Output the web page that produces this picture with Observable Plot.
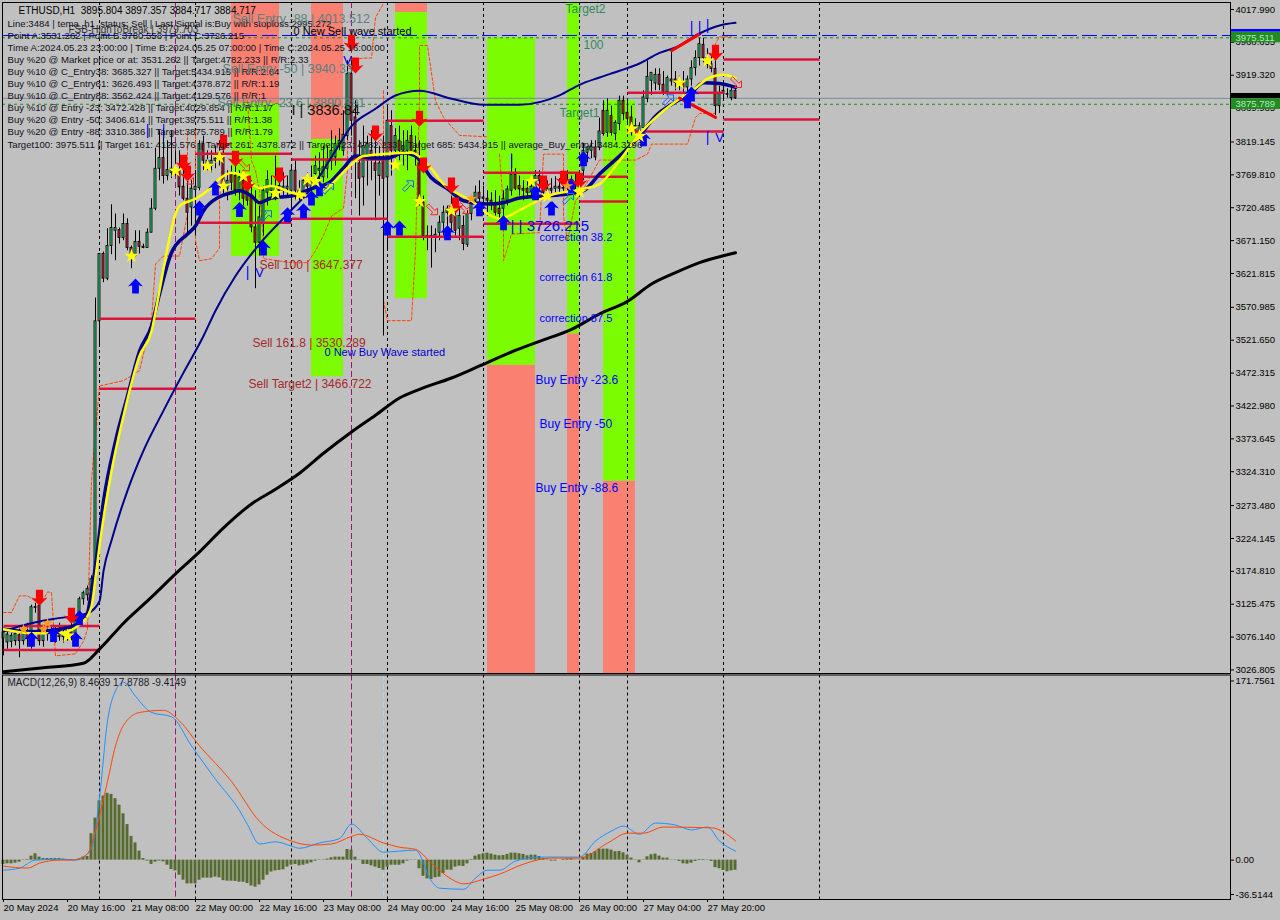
<!DOCTYPE html>
<html>
<head>
<meta charset="utf-8">
<script src="https://cdn.jsdelivr.net/npm/d3@7"></script>
<script src="https://cdn.jsdelivr.net/npm/@observablehq/plot@0.6"></script>
<style>
html,body{margin:0;padding:0;background:#c0c0c0;width:1280px;height:920px;overflow:hidden}
svg{display:block;position:absolute;left:0}
</style>
</head>
<body>
<script>
// ---------- price panel data (hourly candles, index = bar number) ----------
const open=[3074,3068,3069,3070,3079,3070,3082,3066,3121,3123,3070,3085,3082,3079,3085,3076,3082,3085,3079,3100,3133,3139,3145,3163,3550,3651,3614,3663,3686,3687,3675,3696,3660,3648,3669,3662,3660,3683,3719,3779,3795,3768,3773,3776,3776,3752,3734,3721,3747,3750,3816,3791,3783,3791,3794,3796,3749,3773,3768,3746,3761,3756,3736,3691,3668,3696,3743,3746,3746,3753,3746,3749,3746,3776,3746,3743,3758,3752,3771,3776,3766,3779,3791,3796,3816,3806,3828,3921,3856,3787,3766,3796,3806,3787,3768,3796,3766,3843,3806,3821,3806,3806,3828,3806,3787,3728,3678,3678,3675,3683,3698,3713,3719,3708,3689,3693,3665,3711,3731,3743,3736,3734,3731,3726,3719,3719,3731,3746,3770,3753,3749,3749,3746,3749,3768,3746,3746,3749,3749,3752,3749,3749,3749,3755,3752,3776,3803,3806,3811,3811,3866,3833,3858,3831,3846,3881,3863,3856,3843,3833,3840,3884,3911,3907,3920,3905,3894,3913,3913,3910,3908,3901,3913,3930,3945,3965,3945,3936,3929,3873,3896,3891,3885,3896];
const high=[3086,3086,3082,3085,3093,3085,3097,3124,3127,3126,3088,3100,3093,3093,3097,3088,3091,3097,3103,3136,3145,3153,3168,3585,3651,3654,3689,3725,3711,3690,3711,3704,3663,3686,3686,3666,3689,3734,3810,3836,3839,3821,3836,3806,3806,3791,3768,3761,3776,3821,3828,3806,3806,3813,3821,3806,3776,3783,3783,3776,3773,3768,3761,3746,3723,3753,3776,3768,3798,3776,3773,3768,3783,3791,3761,3764,3773,3783,3798,3803,3813,3813,3836,3828,3839,3866,3941,3941,3881,3821,3843,3828,3836,3836,3813,3828,3873,3866,3839,3843,3836,3836,3843,3828,3821,3738,3693,3693,3689,3708,3723,3723,3738,3723,3719,3708,3716,3738,3753,3761,3753,3746,3743,3746,3738,3746,3753,3801,3779,3768,3761,3761,3768,3776,3776,3764,3761,3764,3767,3764,3764,3776,3768,3773,3773,3817,3812,3821,3821,3855,3881,3884,3873,3851,3888,3888,3884,3873,3854,3848,3896,3941,3923,3929,3929,3925,3918,3956,3925,3918,3925,3918,3941,3956,3975,3975,3959,3948,3941,3903,3903,3899,3903,3899];
const low=[3048,3058,3060,3063,3045,3064,3061,3058,3112,3063,3061,3070,3070,3067,3070,3067,3070,3070,3070,3093,3124,3130,3130,3153,3513,3608,3611,3650,3641,3666,3671,3656,3629,3647,3651,3659,3660,3683,3716,3761,3756,3761,3764,3768,3738,3731,3683,3693,3678,3746,3776,3776,3773,3779,3783,3738,3731,3746,3738,3731,3723,3723,3683,3599,3648,3678,3723,3738,3731,3738,3734,3738,3716,3731,3731,3734,3738,3734,3761,3761,3758,3764,3776,3783,3806,3798,3821,3828,3734,3708,3723,3753,3761,3701,3738,3528,3656,3768,3783,3791,3783,3776,3806,3783,3723,3671,3656,3630,3653,3671,3678,3686,3683,3678,3671,3656,3661,3701,3723,3723,3723,3708,3716,3708,3701,3708,3723,3738,3746,3738,3731,3734,3734,3738,3746,3734,3737,3738,3743,3743,3738,3743,3743,3746,3746,3761,3788,3794,3791,3806,3828,3826,3828,3821,3836,3851,3848,3828,3828,3821,3836,3878,3889,3896,3896,3889,3889,3903,3896,3896,3893,3889,3903,3918,3933,3938,3929,3923,3859,3862,3881,3885,3881,3883];
const close=[3083,3080,3078,3081,3070,3082,3073,3121,3120,3070,3085,3082,3079,3085,3076,3082,3085,3079,3100,3133,3142,3148,3163,3550,3651,3614,3663,3690,3690,3675,3696,3660,3647,3669,3662,3660,3683,3719,3779,3795,3768,3777,3779,3775,3751,3734,3713,3749,3752,3816,3791,3783,3791,3794,3797,3756,3761,3758,3747,3766,3734,3731,3691,3668,3706,3746,3762,3753,3752,3746,3752,3752,3776,3746,3743,3761,3752,3761,3783,3779,3781,3791,3806,3816,3821,3830,3921,3851,3791,3764,3813,3816,3798,3776,3787,3764,3851,3806,3828,3806,3813,3821,3806,3803,3726,3678,3675,3675,3680,3698,3713,3719,3698,3686,3708,3666,3711,3731,3743,3734,3734,3731,3726,3713,3711,3734,3748,3770,3749,3748,3746,3743,3752,3768,3761,3743,3749,3746,3752,3749,3750,3752,3755,3752,3757,3806,3811,3812,3796,3835,3831,3866,3833,3848,3881,3861,3854,3839,3836,3843,3886,3917,3923,3920,3905,3893,3915,3910,3908,3905,3901,3913,3930,3945,3966,3945,3935,3929,3873,3891,3891,3890,3896,3884.717];

// moving averages: [bar index], [price]
const maSlowBar=[0,10,20,24,30,37,43,49,55,62,68,74,80,87,93,99,104,112,119,127,134,142,149,156,162,168,174,183];
const maSlow=[3024,3030,3037,3058,3097,3136,3171,3204,3240,3276,3298,3322,3352,3384,3409,3435,3448,3465,3483,3504,3520,3538,3561,3580,3606,3623,3638,3653];
const maMidBar=[0,7,12,21,24,25,27,31,35,40,45,50,53,58,64,71,77,83,87,93,98,104,112,120,129,139,144,149,154,159,164,168,174,179,183];
const maMid=[3085,3097,3103,3112,3130,3175,3221,3296,3356,3416,3473,3528,3566,3618,3666,3711,3750,3806,3843,3869,3889,3896,3884,3875,3875,3889,3905,3916,3926,3937,3953,3961,3982,3994,3998];
const temaBar=[0,7,14,19,21,22,23,25,28,31,34,37,39,42,46,48,50,54,57,59,62,64,67,72,77,82,85,88,92,96,100,103,107,111,115,121,125,129,135,141,145,149,154,159,163,168,172,175,179,183];
const tema=[3088,3084,3088,3097,3112,3145,3183,3280,3370,3438,3505,3543,3591,3653,3681,3693,3716,3737,3743,3746,3738,3728,3735,3738,3749,3761,3780,3798,3795,3795,3803,3798,3765,3749,3731,3726,3728,3735,3738,3741,3746,3771,3798,3828,3858,3879,3893,3908,3907,3901];
const yellowBar=[0,7,14,20,22,23,24,27,30,34,37,39,41,43,44,48,51,54,57,60,64,67,72,77,81,86,90,95,102,106,110,117,122,124,130,136,145,149,154,159,164,169,173,176,180,183];
const yellow=[3088,3082,3082,3100,3122,3165,3213,3325,3408,3498,3535,3596,3660,3711,3723,3734,3746,3764,3773,3768,3750,3753,3743,3738,3750,3780,3798,3801,3803,3786,3756,3731,3708,3704,3720,3738,3749,3756,3791,3831,3861,3884,3900,3914,3920,3915];

// thin orange dashed envelope, broken in stretches
const envA=[[0,3113],[2,3113],[4,3138],[6,3138],[8,3130],[10,3133],[11,3144],[12,3143],[13,3048],[18,3051],[20,3070],[21,3088],[22,3311],[24,3453],[30,3461],[34,3476],[37,3551],[38,3636],[40,3648],[44,3648],[46,3711],[46,3776],[46,3836]];
const envB=[[48,3836],[48,3671],[49,3641],[52,3644],[54,3660],[54,3731],[55,3821]];
const envC=[[61,3881],[62,3791],[63,3776],[64,3746],[65,3671],[65,3644],[72,3638],[76,3638],[78,3656],[80,3679],[82,3708],[85,3720],[86,3776],[86,3941],[90,3945],[92,3945],[93,4006],[95,4027]];
const envD=[[95,3896],[95,3581],[96,3551],[102,3551],[103,3656],[104,3881],[104,3964],[106,3964],[108,3881],[110,3856],[114,3829],[121,3827]];
const envE=[[124,3801],[125,3721],[125,3641],[126,3660],[127,3681],[134,3683],[135,3801],[140,3801],[140,3708],[141,3671],[143,3731],[144,3738],[149,3792],[158,3792],[161,3801],[162,3816],[171,3816],[173,3856],[174,3862],[178,3862],[178,3967],[179,3977],[182,3977]];

// signal zones (bar index from/to, price from/to)
const greenFrom=[57,77,98,121,141,150], greenTo=[69,85,106,133,144,158];
const greenTop=[3877,3823,4013.5,3975.5,4028.5,3881], greenBottom=[3647.4,3466.7,3584,3484.3,3531.3,3310.4];
const salmonFrom=[57,77,98,121,141,150], salmonTo=[69,85,106,133,144,158];
const salmonTop=[4028.5,4028.5,4028.5,3484.3,3531.3,3310.4], salmonBottom=[3877,3823,4013.5,3021,3021,3021];

// crimson levels per time block
const levelFrom=[0,0,24,24,48,48,72,72,96,96,120,120,144,144,156,156,180,180];
const levelTo=[24,24,48,48,72,72,96,96,120,120,144,144,156,156,180,180,204,204];
const levelPrice=[3092.9,3056.8,3554,3449,3801.7,3698,3792.7,3704,3851,3677,3773,3696.6,3767,3730,3893,3835,3943,3853];

// markers (bar, price)
const upBar=[7,12.5,18,19,33,49,53,59,65,71,75,77,79,96,99,111,119,125,133,137,142,145,160,171,172];
const upPrice=[3073,3080,3073,3105,3603,3720,3750,3718,3660,3710,3716,3735,3749,3690,3690,3683,3719,3698,3743,3720,3754,3794,3824,3881,3891];
const downBar=[9,17,45,46,55,58,61,69,87,88,93,104,105,112,113,135,140,144,178];
const downPrice=[3135,3108,3788,3772,3818,3794,3757,3769,3968,3934,3832,3854,3784,3754,3724,3757,3764,3761,3953];
const starBar=[16,32,43,51,54,55,60,68,74,76,78,98,104,112,132,136,144,157,159,169,176];
const starPrice=[3078,3648,3776,3783,3796,3753,3768,3742,3740,3763,3760,3785,3730,3716,3760,3738,3744,3839,3828,3908,3941];
const orangeStarBar=[117,141,5,11,10], orangeStarPrice=[3734,3753,3088,3097,3088];
const hollowUpBar=[65.5,81,101,141,166], hollowUpPrice=[3707,3748,3752,3733,3881];
const hollowDownBar=[46,60,95,107,115,183], hollowDownPrice=[3765,3785,3816,3719,3721,3910];
const tickMarkBar=[36,40,61,172,174,176,176,127], tickMarkPrice=[3836,3836,3623,3991,3991,3994,3826,3791];
const vMarkBar=[64,86,179], vMarkPrice=[3623,3941,3826];

// trend strokes
const trendUp=[[167,3956],[174,3981]], trendDown=[[169,3885],[178,3856]];

// reference lines
const blockBars=[24,48,72,96,120,144,156,180,204];
const purpleBars=[43,87];
const priceTicks=[4017.990,3968.655,3919.320,3869.985,3819.145,3769.810,3720.485,3671.150,3621.815,3570.985,3521.650,3472.315,3422.980,3373.645,3324.310,3273.480,3224.145,3174.810,3125.475,3076.140,3026.805];
const target1=3875.789, target2=3975.511, highToBreak=3979.0, lastPrice=3884.717;

// ---------- comment block ----------
const commentLines=[
"Line:3484 | tema_h1_status: Sell | Last Signal is:Buy with stoploss:2995.272",
"Point A:3531.262 | Point B:3780.558 | Point C:3726.215",
"Time A:2024.05.23 23:00:00 | Time B:2024.05.25 07:00:00 | Time C:2024.05.25 16:00:00",
"Buy %20 @ Market price or at: 3531.262 || Target:4782.233 || R/R:2.33",
"Buy %10 @ C_Entry38: 3685.327 || Target:5434.915 || R/R:2.64",
"Buy %10 @ C_Entry61: 3626.493 || Target:4378.872 || R/R:1.19",
"Buy %10 @ C_Entry88: 3562.424 || Target:4129.576 || R/R:1",
"Buy %10 @ Entry -23: 3472.428 || Target:4029.854 || R/R:1.17",
"Buy %20 @ Entry -50: 3406.614 || Target:3975.511 || R/R:1.38",
"Buy %20 @ Entry -88: 3310.386 || Target:3875.789 || R/R:1.79",
"Target100: 3975.511 || Target 161: 4129.576 || Target 261: 4378.872 || Target 423: 4782.233 || Target 685: 5434.915 || average_Buy_entry: 3484.3196"
];

// ---------- MACD data ----------
const histogram=[-4,-3.4,-3.4,-2.8,-1.9,.3,.6,3.7,5.9,2.8,1.5,1.5,1.5,1.5,1.5,.9,.3,.6,-.3,1.2,2.8,3.4,24.5,39,55,59.5,62,61,57,51,43,33,22,16,8.4,1.5,-.9,-4,-1.9,-.9,-1.6,-4.7,-8.7,-10,-14,-18.6,-22,-22,-22,-18.6,-16.7,-16.7,-16.7,-15.8,-16.4,-19,-19.5,-19.5,-19.8,-20.5,-20.5,-21.7,-24,-25,-23,-18.6,-14,-11,-10,-9.6,-9,-6.5,-4.7,-4,-5.3,-4.7,-3.7,-2.5,-.9,.3,-.3,.9,2.2,2.8,2.8,2.8,9.9,9.3,2.8,-.3,-4,-4,-5.3,-6.5,-7.8,-9.3,-6.5,-4.7,-4.7,-4.7,-3.4,-.9,-.3,-.3,-8,-15,-17.4,-18,-16.4,-15.8,-12.4,-9.3,-9.3,-6.5,-5.6,-5.9,-3.4,.6,3.7,5,5.9,6.5,5.6,4.6,4,4.3,5.3,6.5,6.5,5.9,5.3,4,4.6,4.6,3.4,1.5,-.3,-.9,-.9,0,.6,1.2,1.5,-.3,-.3,2.8,5.6,6.2,7.8,10.2,10.2,10.2,9.3,7.8,8.1,6.8,4.6,1.9,-.3,-2.5,-.3,3.1,5,5.6,3.7,1.9,1.9,.3,-.3,-1.2,-3.4,-3.7,-2.8,-1.2,.6,.6,-.3,-1.2,-7,-8,-9.6,-10.8,-10,-9.4149];
const macdBar=[0,4,8,15,18,22,24,26,28,30,33,37,42,47,53,59,61,64,68,72,74,79,84,87,91,95,99,103,107,109,115,118,121,124,128,134,141,144,148,152,155,159,163,168,172,176,179,183];
const macd=[-9.3,-7.4,0,.9,0,11,58,129,157,165,152,137,133,106,75,46,33,15,17,13,11,16,20,33.5,20,7.4,8.4,9.3,-19.5,-26,-27,-16.7,-9.3,-9.3,-.9,2.8,2.8,2.8,17.7,27,31.6,24,34.4,32.6,28,30.7,17.7,8.4639];
const signalBar=[0,6,9,14,17,21,23,26,28,30,34,40,44,49,57,64,72,77,82,87,89,95,99,103,107,112,115,120,124,130,137,144,151,156,160,165,177,183];
const signal=[-5.6,-7.4,-2.8,0,0,5.6,27,73,106,125,137,139,129,106,73,36,17.7,14,15,22,24,16,12,10,-2.8,-17.7,-22,-17.7,-13,-3.7,1.9,1.9,15.8,25,25,30.7,30,17.8788];
const timeTickBars=[0,16,32,48,64,80,96,112,128,144,160,176];
const timeTickLabels=["20 May 2024","20 May 16:00","21 May 08:00","22 May 00:00","22 May 16:00","23 May 08:00","24 May 00:00","24 May 16:00","25 May 08:00","26 May 00:00","27 May 04:00","27 May 20:00"];
const macdTop=171.7561, macdBottom=-36.5144;

// ---------- helpers ----------
const FONT="Liberation Sans";
const bars=d3.range(open.length);
const zip=(xs,ys)=>xs.map((x,k)=>({x,y:ys[k]}));
const pairs=a=>a.map(([x,y])=>({x,y}));
const glyph=(pts)=>({draw(c,size){const r=Math.sqrt(size/Math.PI);pts.forEach(([a,b],k)=>k?c.lineTo(a*r,b*r):c.moveTo(a*r,b*r));c.closePath();}});
const arrowUp=glyph([[0,-1],[1,.05],[.45,-.1],[.45,1],[-.45,1],[-.45,-.1],[-1,.05]]);
const arrowDown=glyph([[0,1],[1,-.05],[.45,.1],[.45,-1],[-.45,-1],[-.45,.1],[-1,-.05]]);
const hollowUp=glyph([[1,-1],[1,.1],[.55,-.3],[-.45,.8],[-.85,.4],[.2,-.6],[-.15,-1]]);
const hollowDown=glyph([[1,1],[1,-.1],[.55,.3],[-.45,-.8],[-.85,-.4],[.2,.6],[-.15,1]]);
const label=(t,i,p,size,fill)=>Plot.text([t],{x:()=>i,y:()=>p,text:d=>d,textAnchor:"start",fontSize:size,fill,fontFamily:FONT});
const xDomain=[-0.25,306.75];
const greens=greenFrom.map((a,k)=>({a,b:greenTo[k],t:greenTop[k],u:greenBottom[k]}));
const salmons=salmonFrom.map((a,k)=>({a,b:salmonTo[k],t:salmonTop[k],u:salmonBottom[k]}));
const levels=levelFrom.map((a,k)=>({a,b:levelTo[k],p:levelPrice[k]}));
const env=a=>Plot.line(pairs(a),{x:"x",y:"y",stroke:"#ff4500",strokeWidth:1,strokeDasharray:"3,2"});

// ---------- price panel ----------
const main=Plot.plot({
  width:1280,height:674,marginLeft:2,marginRight:50,marginTop:2,marginBottom:1,
  style:{background:"#c0c0c0",fontFamily:FONT,fontSize:"9.5px",color:"#000"},
  x:{domain:xDomain,axis:null},
  y:{domain:[3021.5,4028.5],axis:null},
  marks:[
    Plot.rect(salmons,{x1:"a",x2:"b",y1:"t",y2:"u",fill:"#fa8072"}),
    Plot.rect(greens,{x1:"a",x2:"b",y1:"t",y2:"u",fill:"#7cfc00"}),
    Plot.ruleX(blockBars,{stroke:"#000",strokeDasharray:"3,3"}),
    Plot.ruleX(purpleBars,{stroke:"#a0147a",strokeDasharray:"6,3"}),
    Plot.ruleY([highToBreak],{stroke:"#0000ff",strokeDasharray:"15,5"}),
    Plot.ruleY([target2,target1],{stroke:"#228b22",strokeDasharray:"3,3"}),
    Plot.ruleY([lastPrice],{stroke:"#778899"}),
    env(envA),env(envB),env(envC),env(envD),env(envE),
    Plot.ruleX(bars,{x:d=>d,y1:d=>low[d],y2:d=>high[d],stroke:"#000"}),
    Plot.rect(bars,{x1:d=>d-.25,x2:d=>d+.25,y1:d=>open[d],y2:d=>close[d],
      fill:d=>close[d]>=open[d]?"#2fd47c":"#d02840",stroke:"#000",strokeWidth:.85}),
    Plot.link(levels,{x1:"a",x2:"b",y1:"p",y2:"p",stroke:"#dc143c",strokeWidth:2.5}),
    Plot.line(zip(maSlowBar,maSlow),{x:"x",y:"y",stroke:"#000",strokeWidth:3,curve:"monotone-x"}),
    Plot.line(zip(maMidBar,maMid),{x:"x",y:"y",stroke:"#00008b",strokeWidth:2,curve:"monotone-x"}),
    Plot.line(zip(temaBar,tema),{x:"x",y:"y",stroke:"#00008b",strokeWidth:3.5,curve:"monotone-x"}),
    Plot.line(zip(yellowBar,yellow),{x:"x",y:"y",stroke:"#ffff00",strokeWidth:2.5,curve:"monotone-x"}),
    Plot.line(pairs(trendUp),{x:"x",y:"y",stroke:"#ff0000",strokeWidth:3}),
    Plot.line(pairs(trendDown),{x:"x",y:"y",stroke:"#ff0000",strokeWidth:3}),
    Plot.dot(zip(upBar,upPrice),{x:"x",y:"y",r:7.5,symbol:arrowUp,fill:"#0000ff",stroke:"none"}),
    Plot.dot(zip(downBar,downPrice),{x:"x",y:"y",r:8,symbol:arrowDown,fill:"#ff0000",stroke:"none"}),
    Plot.dot(zip(starBar,starPrice),{x:"x",y:"y",r:4.5,symbol:"star",fill:"#ffff00",stroke:"none"}),
    Plot.dot(zip(orangeStarBar,orangeStarPrice),{x:"x",y:"y",r:3.5,symbol:"star",fill:"#ff9a1f",stroke:"none"}),
    Plot.dot(zip(hollowUpBar,hollowUpPrice),{x:"x",y:"y",r:6,symbol:hollowUp,fill:"none",stroke:"#1e5fff",strokeWidth:1}),
    Plot.dot(zip(hollowDownBar,hollowDownPrice),{x:"x",y:"y",r:6,symbol:hollowDown,fill:"none",stroke:"#ff2020",strokeWidth:1}),
    Plot.text(zip(tickMarkBar,tickMarkPrice),{x:"x",y:"y",text:()=>"|",fill:"#0000ff",fontSize:14,fontFamily:FONT}),
    Plot.text(zip(vMarkBar,vMarkPrice),{x:"x",y:"y",text:()=>"V",fill:"#0000ff",fontSize:13,fontFamily:FONT}),
    // comment block
    Plot.text(["ETHUSD,H1  3895.804 3897.357 3884.717 3884.717"],{frameAnchor:"top-left",dx:16,dy:8,lineAnchor:"middle",fontSize:10,fill:"#000",fontFamily:FONT}),
    Plot.text(["FSB-HighToBreak | 3979.703"],{frameAnchor:"top-left",dx:66,dy:27,lineAnchor:"middle",fontSize:10,fill:"#333",fontFamily:FONT}),
    ...commentLines.map((t,k)=>Plot.text([t],{frameAnchor:"top-left",dx:5,dy:21+12.1*k,lineAnchor:"middle",fontSize:9.6,fill:"#10101c",fontFamily:FONT})),
    // level labels
    label("Sell Entry -88 | 4013.512",57.25,4003,12.5,"#5a8080"),
    label("Sell Entry -50 | 3940.33",54.75,3928,12.5,"#5a8080"),
    label("Sell Entry -23.6 | 3890.391",53.5,3878,12.5,"#5a8080"),
    label("I | 3836.84",72,3866,14.5,"#111"),
    label("0 New Sell wave started",72.5,3985,11,"#000"),
    label("Sell 100 | 3647.377",64,3635,12,"#a52a2a"),
    label("Sell 161.8 | 3530.289",62.25,3518,12,"#a52a2a"),
    label("Sell Target2 | 3466.722",61.25,3455,12,"#a52a2a"),
    label("0 New Buy Wave started",80.25,3503,11,"#0000cd"),
    label("| | 3726.215",126.75,3693,15,"#0000ff"),
    label("correction 38.2",134,3676,11,"#0000ff"),
    label("correction 61.8",134,3616,11,"#0000ff"),
    label("correction 87.5",134,3554,11,"#0000ff"),
    label("Buy Entry -23.6",133,3461,12,"#0000ff"),
    label("Buy Entry -50",134,3395,12,"#0000ff"),
    label("Buy Entry -88.6",133,3300,12,"#0000ff"),
    label("Target2",140.5,4019,12,"#2e8b57"),
    label("100",145,3964,12,"#2e8b57"),
    label("Target1",139,3863,12,"#2e8b57"),
    // price axis
    Plot.frame({stroke:"#000"}),
    Plot.axisY(priceTicks,{anchor:"right",tickSize:3,tickPadding:2,tickFormat:d=>d.toFixed(3),label:null,fontSize:9.5,fill:"#000",fontFamily:FONT}),
    // right-hand price tags
    Plot.rect([0],{x1:()=>307,x2:()=>319.5,y1:()=>3984,y2:()=>3988,fill:"#0000ff"}),
    Plot.rect([0],{x1:()=>307,x2:()=>319.5,y1:()=>3968,y2:()=>3983.5,fill:"#228b22"}),
    Plot.text([target2],{x:()=>308,y:d=>d,text:d=>d.toFixed(3),textAnchor:"start",fill:"#b0e8c0",fontSize:9.5,fontFamily:FONT}),
    Plot.rect([0],{x1:()=>307,x2:()=>319.5,y1:()=>3884,y2:()=>3892,fill:"#000"}),
    Plot.rect([0],{x1:()=>307,x2:()=>319.5,y1:()=>3868,y2:()=>3884,fill:"#228b22"}),
    Plot.text([target1],{x:()=>308,y:d=>d,text:d=>d.toFixed(3),textAnchor:"start",fill:"#b0e8c0",fontSize:9.5,fontFamily:FONT})
  ]
});
main.style.top="0px";
document.body.appendChild(main);

// ---------- MACD panel ----------
const macdPlot=Plot.plot({
  width:1280,height:246,marginLeft:2,marginRight:50,marginTop:0.5,marginBottom:21,
  style:{background:"#c0c0c0",fontFamily:FONT,fontSize:"9.5px",color:"#000"},
  x:{domain:xDomain,axis:null},
  y:{domain:[macdBottom,macdTop],axis:null},
  marks:[
    Plot.ruleX(blockBars,{stroke:"#000",strokeDasharray:"3,3"}),
    Plot.ruleX(purpleBars,{stroke:"#a0147a",strokeDasharray:"6,3"}),
    Plot.ruleX([95],{stroke:"#add8e6",strokeDasharray:"6,3"}),
    Plot.rect(histogram,{x1:(d,k)=>k-.375,x2:(d,k)=>k+.375,y1:()=>0,y2:d=>d,fill:"#556b2f"}),
    Plot.line(zip(macdBar,macd),{x:"x",y:"y",stroke:"#1e90ff",strokeWidth:1,curve:"monotone-x"}),
    Plot.line(zip(signalBar,signal),{x:"x",y:"y",stroke:"#ff4500",strokeWidth:1,curve:"monotone-x"}),
    Plot.text(["MACD(12,26,9) 8.4639 17.8788 -9.4149"],{frameAnchor:"top-left",dx:5,dy:8,lineAnchor:"middle",fontSize:10,fill:"#1c1c2c",fontFamily:FONT}),
    Plot.frame({stroke:"#000"}),
    Plot.axisY([macdTop],{anchor:"right",tickSize:3,tickPadding:2,tickFormat:d=>d.toFixed(4),label:null,dy:6,fontSize:9.5,fontFamily:FONT}),
    Plot.axisY([0],{anchor:"right",tickSize:3,tickPadding:2,tickFormat:d=>d.toFixed(2),label:null,fontSize:9.5,fontFamily:FONT}),
    Plot.axisY([macdBottom],{anchor:"right",tickSize:3,tickPadding:2,tickFormat:d=>d.toFixed(4),label:null,dy:-5,fontSize:9.5,fontFamily:FONT}),
    Plot.axisX(timeTickBars,{anchor:"bottom",tickSize:3,tickPadding:2,tickFormat:d=>timeTickLabels[timeTickBars.indexOf(d)],textAnchor:"start",label:null,fontSize:9.5,fontFamily:FONT})
  ]
});
macdPlot.style.top="674px";
document.body.appendChild(macdPlot);
</script>
</body>
</html>
